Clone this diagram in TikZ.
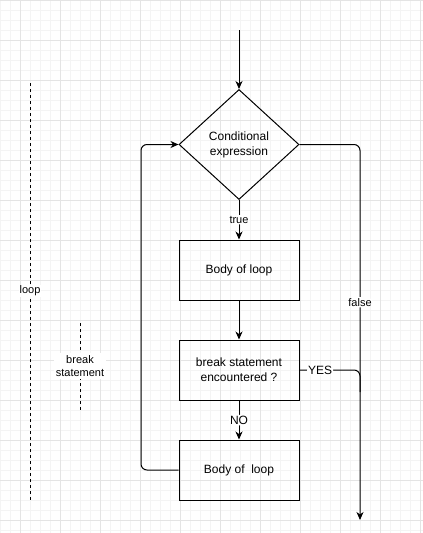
\documentclass[tikz,border=0pt]{standalone}
\usepackage{fontspec}
\setmainfont{Liberation Sans}
\usetikzlibrary{shapes.geometric,arrows.meta}
\definecolor{gminor}{HTML}{F4F4F4}
\definecolor{gmajor}{HTML}{E4E4E4}
\tikzset{
  box/.style={draw, line width=1pt, minimum width=120pt, minimum height=60pt, inner sep=0pt, align=center, font=\fontsize{12}{15}\selectfont},
  dia/.style={draw, diamond, line width=1pt, minimum width=120pt, minimum height=110pt, inner sep=0pt, align=center, font=\fontsize{12}{15}\selectfont},
  conn/.style={line width=1pt, rounded corners=6pt},
  arr/.style={conn, -{Stealth[length=8pt,width=7pt,inset=2.5pt]}},
  lbl/.style={fill=white, inner sep=1pt, font=\fontsize{11}{13}\selectfont},
  lblb/.style={fill=white, inner sep=1pt, font=\fontsize{12}{14}\selectfont},
  dash line/.style={line width=1pt, dash pattern=on 3pt off 3pt},
}
\begin{document}
\begin{tikzpicture}[x=1pt,y=-1pt]
\useasboundingbox (0,0) rectangle (423,533);
% grid
\foreach \i in {0,10,...,420} \draw[gminor, line width=0.6pt] (\i,0) -- (\i,533);
\foreach \j in {0,10,...,530} \draw[gminor, line width=0.6pt] (0,\j) -- (423,\j);
\foreach \i in {20,60,...,420} \draw[gmajor, line width=0.8pt] (\i,0) -- (\i,533);
\foreach \j in {0,40,...,520} \draw[gmajor, line width=0.8pt] (0,\j) -- (423,\j);
% nodes
\node[dia] (cond) at (239,144.5) {Conditional\\expression};
\node[box] (b1) at (239,270) {Body of loop};
\node[box] (b2) at (239,370) {break statement\\encountered ?};
\node[box] (b3) at (239,470) {Body of\ \ loop};
\coordinate (start) at (239,30);
\coordinate (fend) at (360,520);
\coordinate (yc) at (360,370);
\coordinate (ye) at (360,392);
\coordinate (lc) at (141,470);
% connectors
\draw[arr] (start) -- (cond.north);
\draw[arr] (cond.south) -- node[lbl]{true} (b1.north);
\draw[arr] (b1.south) -- (b2.north);
\draw[arr] (b2.south) -- node[lblb]{NO} (b3.north);
\draw[arr] (b3.west) -- (lc) |- (cond.west);
\draw[arr] (cond.east) -| node[lbl, pos=0.71]{false} (fend);
\draw[conn] (b2.east) -- node[lblb, pos=0.34]{YES} (yc) -- (ye);
% side markers
\coordinate (lt) at (30,83);
\coordinate (lb) at (30,500);
\draw[dash line] (lt) -- (lb);
\node[lbl] (looplbl) at (30,291) {loop};
\coordinate (bt) at (80,323);
\coordinate (bb) at (80,410);
\draw[dash line] (bt) -- (bb);
\node[lbl, align=center, inner sep=2pt] (brklbl) at (80,366) {break\\statement};
\end{tikzpicture}
\end{document}
